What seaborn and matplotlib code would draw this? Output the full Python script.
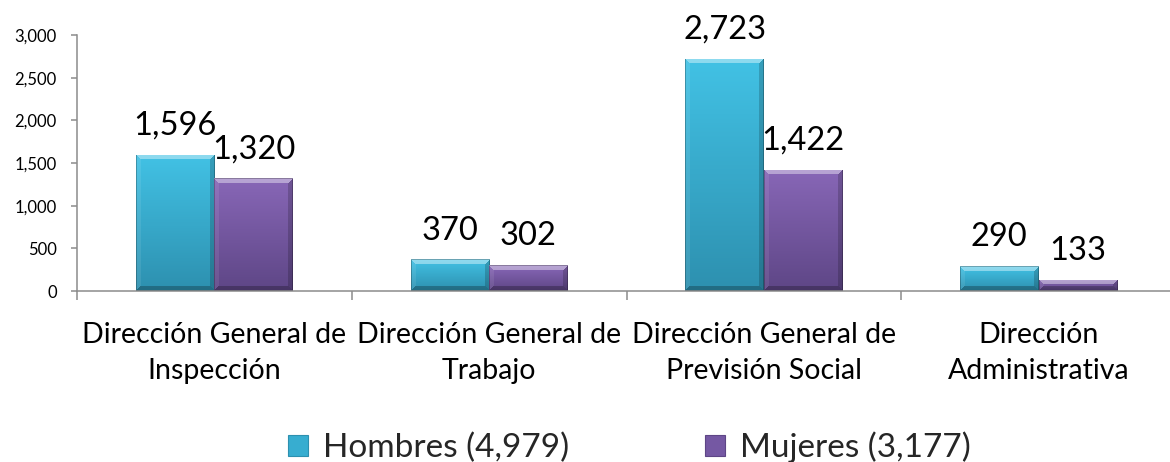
import numpy as np
import pandas as pd
import matplotlib
matplotlib.use("Agg")
import matplotlib.pyplot as plt
import matplotlib.colors as mcolors
import seaborn as sns
from matplotlib.patches import Patch
from matplotlib.ticker import FuncFormatter, FixedLocator

# ---- data ----
categories = [
    "Dirección General de\nInspección",
    "Dirección General de\nTrabajo",
    "Dirección General de\nPrevisión Social",
    "Dirección\nAdministrativa",
]
hombres = [1596, 370, 2723, 290]
mujeres = [1320, 302, 1422, 133]
series_names = ["Hombres (4,979)", "Mujeres (3,177)"]
y_ticks = [0, 500, 1000, 1500, 2000, 2500, 3000]

# ---- style ----
sns.set_style("white")
plt.rcParams['font.family'] = ['Lato', 'DejaVu Sans']

df = pd.DataFrame({
    "cat": categories * 2,
    "value": hombres + mujeres,
    "serie": [series_names[0]] * len(categories) + [series_names[1]] * len(categories),
})

colors = {series_names[0]: "#37ADD0", series_names[1]: "#7558A3"}
grad = {series_names[0]: ("#42C2E5", "#2D90AF"),
        series_names[1]: ("#8867B7", "#5E4686")}

W, H = 1170, 462
fig = plt.figure(figsize=(W / 100, H / 100), dpi=100)
ax = fig.add_axes([77 / W, 171 / H, 1099 / W, 256 / H])

sns.barplot(data=df, x="cat", y="value", hue="serie", order=categories,
            hue_order=series_names, palette=colors, width=0.572, gap=0,
            dodge=True, legend=False, ax=ax, saturation=1, errorbar=None,
            edgecolor="none", linewidth=0)

ax.set_xlim(-0.5, len(categories) - 0.5)
ax.set_ylim(0, 3000)


def bevel_img(wpx, hpx, top, bot, b=5):
    top = np.array(mcolors.to_rgb(top))
    bot = np.array(mcolors.to_rgb(bot))
    i = np.arange(hpx)[:, None] * np.ones((1, wpx))
    j = np.ones((hpx, 1)) * np.arange(wpx)[None, :]
    t = i / max(hpx - 1, 1)
    img = top[None, None, :] * (1 - t[..., None]) + bot[None, None, :] * t[..., None]
    d = np.stack([i, hpx - 1 - i, j, wpx - 1 - j])
    m = np.argmin(d, axis=0)
    dmin = np.min(d, axis=0)
    inb = dmin < b
    white = np.ones(3)
    black = np.zeros(3)
    out = img.copy()
    sel = inb & (m == 0)
    out[sel] = img[sel] * 0.6 + white * 0.4
    sel = inb & (m == 1)
    out[sel] = img[sel] * 0.75 + black * 0.25
    sel = inb & (m == 2)
    out[sel] = img[sel] * 0.92 + white * 0.08
    sel = inb & (m == 3)
    out[sel] = img[sel] * 0.82 + black * 0.18
    edge = dmin < 1
    out[edge] = out[edge] * 0.75
    return np.clip(out, 0, 1)


for serie, container, vals in zip(series_names, ax.containers, [hombres, mujeres]):
    for patch in container.patches:
        x0, w, h = patch.get_x(), patch.get_width(), patch.get_height()
        p0 = ax.transData.transform((x0, 0))
        p1 = ax.transData.transform((x0 + w, h))
        wpx = max(int(round(p1[0] - p0[0])), 2)
        hpx = max(int(round(p1[1] - p0[1])), 2)
        img = bevel_img(wpx, hpx, *grad[serie])
        im = ax.imshow(img, extent=(x0, x0 + w, 0, h), origin="upper",
                       aspect="auto", zorder=patch.get_zorder() + 0.1,
                       interpolation="nearest")
        im.set_clip_path(patch)
    ax.bar_label(container, labels=[f"{v:,}" for v in vals], padding=10,
                 fontsize=23.5, color="black", zorder=6)

ax.set_aspect("auto")
ax.set_xlim(-0.5, len(categories) - 0.5)
ax.set_ylim(0, 3000)

# axes styling
for s in ["top", "right"]:
    ax.spines[s].set_visible(False)
for s in ["left", "bottom"]:
    ax.spines[s].set_color("#8C8C8C")
    ax.spines[s].set_linewidth(1.1)

ax.set_yticks(y_ticks)
ax.yaxis.set_major_formatter(FuncFormatter(lambda v, p: f"{int(v):,}"))
ax.tick_params(axis="y", which="major", length=4.5, width=1.1, color="#8C8C8C",
               labelsize=12, pad=10, left=True, labelcolor="black")

ax.set_xticks(range(len(categories)))
ax.set_xticklabels(categories, fontsize=20.5, linespacing=1.5)
ax.tick_params(axis="x", which="major", length=0, pad=22, labelcolor="black")
ax.xaxis.set_minor_locator(FixedLocator(np.arange(-0.5, len(categories), 1.0)))
ax.tick_params(axis="x", which="minor", length=6.5, width=1.1, color="#8C8C8C",
               bottom=True, direction="out")
ax.set_xlabel("")
ax.set_ylabel("")
ax.grid(False)

handles = [Patch(facecolor=colors[s], edgecolor=grad[s][1], linewidth=0.8) for s in series_names]
fig.legend(handles, series_names, loc="center", bbox_to_anchor=(0.538, 0.032),
           bbox_transform=fig.transFigure, ncol=2, frameon=False, fontsize=24,
           handlelength=0.6, handleheight=0.6, handletextpad=0.45,
           columnspacing=4.1, borderpad=0, borderaxespad=0)

fig.savefig("out.png", dpi=100)
